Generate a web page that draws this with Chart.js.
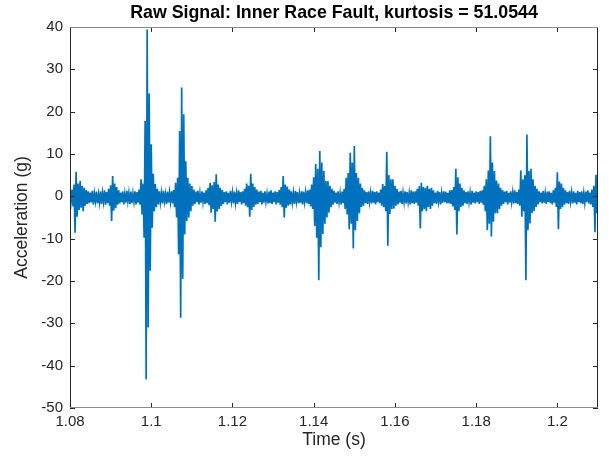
<!DOCTYPE html>
<html>
<head>
<meta charset="utf-8">
<script src="https://cdn.jsdelivr.net/npm/chart.js@4"></script>
<style>
  html, body { margin: 0; padding: 0; background: #fff; }
</style>
</head>
<body>
<canvas id="chart" width="611" height="459"></canvas>
<script>
// sampled signal, one value every 0.25 ms starting at 1.08 s (20 samples per row)
const t0 = 1.08;
const dt = 0.00025;
const accel = [
  0.5, -1.3, 1.6, -2.4, 2.8, -8.6, 5.8, -4.8, 3.0, -3.2, 3.6, -2.7, 2.4, -3.5, 2.0, -2.2, 1.5, -1.8, 1.2, -1.6,
  0.9, -1.4, 1.3, -1.9, 0.7, -1.2, 1.1, -1.7, 0.5, -1.5, 1.2, -1.8, 0.8, -1.3, 1.4, -2.0, 1.0, -1.6, 1.8, -2.2,
  2.6, -5.8, 4.8, -3.4, 3.0, -2.8, 2.2, -2.0, 1.4, -1.7, 0.9, -1.4, 1.2, -1.9, 0.6, -1.5, 1.3, -1.2, 0.8, -1.8,
  1.1, -1.6, 0.7, -1.3, 1.2, -1.9, 1.0, -1.5, 1.6, -2.0, 4.0, -4.3, 3.0, -9.8, 17.8, -43.2, 39.4, -31.0, 24.3, -17.6,
  12.3, -7.4, 5.3, -3.5, 2.9, -2.6, 1.8, -1.9, 1.2, -1.4, 0.8, -1.7, 1.3, -1.2, 0.6, -1.8, 1.1, -1.5, 0.9, -1.3,
  1.2, -1.7, 1.5, -2.6, 3.2, -5.0, 4.4, -13.7, 15.4, -28.7, 25.7, -19.5, 19.4, -9.0, 8.3, -5.8, 4.4, -5.0, 3.0, -3.5,
  2.4, -2.2, 1.6, -1.8, 1.1, -1.4, 1.3, -1.9, 0.7, -1.5, 1.2, -1.3, 0.9, -1.8, 1.4, -1.6, 2.0, -2.1, 3.2, -3.9,
  2.6, -3.0, 3.4, -6.0, 5.2, -3.6, 2.8, -3.0, 2.0, -2.3, 1.5, -1.8, 1.0, -1.4, 1.2, -1.9, 0.8, -1.5, 1.3, -1.2,
  0.9, -1.7, 1.1, -1.5, 0.7, -1.8, 1.4, -1.3, 1.0, -1.9, 1.2, -1.6, 1.8, -2.2, 3.0, -2.6, 2.5, -4.8, 5.3, -3.2,
  3.0, -2.5, 2.2, -2.0, 1.6, -1.8, 1.1, -1.4, 1.3, -1.9, 0.8, -1.5, 1.2, -1.3, 0.6, -1.7, 1.1, -1.6, 1.4, -1.8,
  0.9, -1.4, 1.2, -1.9, 1.0, -1.5, 1.5, -2.0, 2.2, -2.6, 4.8, -5.0, 2.8, -2.7, 2.3, -2.2, 1.6, -1.9, 1.2, -1.4,
  0.8, -1.8, 1.3, -1.2, 1.0, -1.7, 0.7, -1.5, 1.2, -1.9, 1.1, -1.3, 0.9, -1.6, 1.4, -1.8, 1.6, -2.4, 2.8, -3.0,
  4.5, -7.0, 7.6, -9.8, 6.5, -19.8, 10.7, -12.0, 8.0, -8.9, 6.0, -6.5, 3.6, -5.0, 3.6, -3.9, 2.5, -2.6, 1.8, -2.0,
  1.3, -1.5, 0.9, -1.8, 1.2, -1.4, 0.7, -1.9, 1.1, -1.6, 1.8, -3.0, 4.4, -4.3, 5.5, -7.8, 10.3, -6.5, 8.0, -12.3,
  11.9, -8.0, 5.5, -5.8, 4.4, -4.0, 3.0, -2.5, 2.0, -2.2, 1.4, -1.6, 1.0, -1.8, 1.2, -1.3, 0.8, -1.7, 1.3, -1.5,
  1.0, -1.9, 1.2, -1.4, 0.9, -1.6, 1.6, -2.2, 2.9, -2.6, 2.4, -3.5, 10.5, -11.7, 5.0, -4.2, 4.0, -3.0, 4.0, -2.9,
  2.5, -2.2, 1.8, -1.9, 1.1, -1.5, 1.3, -1.8, 0.8, -1.4, 1.2, -1.7, 1.0, -1.3, 0.7, -1.9, 1.4, -1.6, 1.1, -1.8,
  1.2, -1.5, 1.8, -2.2, 2.4, -7.6, 3.2, -3.5, 2.2, -3.0, 2.0, -3.5, 2.5, -2.5, 1.8, -3.0, 2.0, -2.2, 1.4, -1.6,
  0.9, -1.8, 1.3, -1.2, 1.0, -1.9, 0.7, -1.5, 1.2, -1.4, 1.1, -1.7, 0.8, -1.6, 1.4, -1.8, 1.5, -2.4, 2.2, -3.2,
  6.5, -9.0, 4.5, -3.5, 3.0, -2.5, 2.0, -2.2, 1.4, -1.6, 1.0, -1.8, 1.2, -1.3, 0.8, -1.9, 1.3, -1.5, 0.9, -1.7,
  1.2, -1.4, 1.0, -1.8, 1.3, -1.5, 1.4, -2.0, 2.5, -3.5, 4.0, -8.0, 6.1, -6.5, 14.2, -9.5, 8.0, -6.0, 6.0, -4.0,
  3.7, -4.0, 3.0, -3.0, 2.0, -2.2, 1.5, -1.8, 1.1, -1.4, 1.3, -1.9, 0.8, -1.5, 1.2, -1.3, 0.9, -1.7, 1.4, -1.6,
  1.0, -1.8, 1.6, -2.2, 6.1, -4.8, 4.0, -3.5, 5.0, -19.8, 14.6, -8.0, 6.0, -6.4, 6.5, -4.0, 4.0, -3.5, 2.5, -2.5,
  1.8, -1.9, 1.2, -1.4, 0.9, -1.7, 1.3, -1.5, 0.7, -1.8, 1.1, -1.3, 1.2, -1.6, 0.8, -1.9, 1.4, -1.5, 2.0, -2.5,
  5.7, -7.8, 3.5, -3.0, 3.0, -2.6, 2.0, -2.0, 1.4, -1.6, 1.0, -1.8, 1.3, -1.2, 0.9, -1.7, 1.2, -1.5, 0.8, -1.9,
  1.3, -1.4, 1.0, -1.6, 1.2, -1.8, 0.7, -1.5, 1.1, -1.3, 1.4, -1.7, 0.9, -1.9, 1.6, -2.5, 2.5, -8.5, 5.1, -4.0,
  3.0
];

const xTicks = [1.08, 1.10, 1.12, 1.14, 1.16, 1.18, 1.20];
const yTicks = [-50, -40, -30, -20, -10, 0, 10, 20, 30, 40];

const points = accel.map((v, i) => ({ x: t0 + i * dt, y: v }));

const axisColor = '#262626';
const fontFamily = '"Liberation Sans", Arial, Helvetica, sans-serif';

// matlab style box with inward ticks on all four sides
const boxTicks = {
  id: 'boxTicks',
  afterDraw(chart) {
    const { ctx, chartArea: a, scales: { x, y } } = chart;
    const len = 5;
    ctx.save();
    ctx.lineWidth = 1;
    ctx.strokeStyle = axisColor;
    ctx.beginPath();
    xTicks.forEach((v) => {
      const px = Math.round(x.getPixelForValue(v)) + 0.5;
      ctx.moveTo(px, a.bottom); ctx.lineTo(px, a.bottom - len);
      ctx.moveTo(px, a.top); ctx.lineTo(px, a.top + len);
    });
    yTicks.forEach((v) => {
      const py = Math.round(y.getPixelForValue(v)) + 0.5;
      ctx.moveTo(a.left, py); ctx.lineTo(a.left + len, py);
      ctx.moveTo(a.right, py); ctx.lineTo(a.right - len, py);
    });
    const l = Math.round(a.left) + 0.5, r = Math.round(a.right) - 0.5;
    ctx.moveTo(l, a.top); ctx.lineTo(l, a.bottom);
    ctx.moveTo(r, a.top); ctx.lineTo(r, a.bottom);
    ctx.stroke();
    ctx.strokeStyle = '#8c8c8c';
    ctx.beginPath();
    const tp = Math.round(a.top) + 0.5, bt = Math.round(a.bottom) - 0.5;
    ctx.moveTo(a.left, tp); ctx.lineTo(a.right, tp);
    ctx.moveTo(a.left, bt); ctx.lineTo(a.right, bt);
    ctx.stroke();
    ctx.restore();
  }
};

new Chart(document.getElementById('chart'), {
  type: 'line',
  data: {
    datasets: [{
      data: points,
      borderColor: '#0072BD',
      borderWidth: 1.7,
      pointRadius: 0,
      tension: 0,
      fill: false
    }]
  },
  options: {
    responsive: false,
    animation: false,
    layout: { padding: { left: 0, right: 13, top: 0, bottom: 0 } },
    plugins: {
      legend: { display: false },
      tooltip: { enabled: false },
      title: {
        display: true,
        text: 'Raw Signal: Inner Race Fault, kurtosis = 51.0544',
        fullSize: false,
        color: '#000',
        font: { family: fontFamily, size: 17.8, weight: 'bold' },
        padding: { top: 2, bottom: 3.6 }
      }
    },
    scales: {
      x: {
        type: 'linear',
        min: 1.08,
        max: 1.21,
        afterBuildTicks: (s) => { s.ticks = xTicks.map((v) => ({ value: v })); },
        afterFit: (s) => { s.height = 51; },
        grid: { display: false, drawTicks: false },
        border: { display: false },
        ticks: {
          color: axisColor,
          padding: 5,
          maxRotation: 0,
          font: { family: fontFamily, size: 15 },
          callback: (v) => String(Number(v.toFixed(2)))
        },
        title: {
          display: true,
          text: 'Time (s)',
          color: axisColor,
          font: { family: fontFamily, size: 17.5 },
          padding: { top: 0, bottom: 8 }
        }
      },
      y: {
        type: 'linear',
        min: -50,
        max: 40,
        afterBuildTicks: (s) => { s.ticks = yTicks.map((v) => ({ value: v })); },
        afterFit: (s) => { s.width = 70; },
        grid: { display: false, drawTicks: false },
        border: { display: false },
        ticks: {
          color: axisColor,
          padding: 7,
          font: { family: fontFamily, size: 15 }
        },
        title: {
          display: true,
          text: 'Acceleration (g)',
          color: axisColor,
          font: { family: fontFamily, size: 17.5 },
          padding: { top: 12, bottom: 0 }
        }
      }
    }
  },
  plugins: [boxTicks]
});
</script>
</body>
</html>
